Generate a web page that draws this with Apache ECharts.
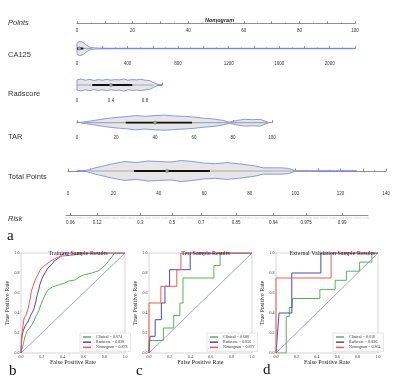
<!DOCTYPE html>
<html>
<head>
<meta charset="utf-8">
<script src="https://cdn.jsdelivr.net/npm/echarts@6/dist/echarts.min.js"></script>
<style>
  html, body { margin: 0; padding: 0; background: #fff; }
  #chart { width: 400px; height: 380px; }
</style>
</head>
<body>
<div id="chart"></div>
<script>
// nomogram violins: positions on each variable's scale and relative half widths
var ca125Pos = [0, 10, 30, 50, 70, 90, 110, 150, 250, 600, 2200];
var ca125Dens = [0.7, 0.95, 1.0, 0.85, 0.55, 0.3, 0.15, 0.07, 0.04, 0.03, 0.03];
var ca125Stats = [0, 0, 18, 50, 120]; // lo, q1, median, q3, hi

var radPos = [0, 0.05, 0.1, 0.15, 0.2, 0.25, 0.3, 0.35, 0.4, 0.45, 0.5, 0.55, 0.6, 0.65, 0.7, 0.75, 0.8, 0.85, 0.9, 0.95, 1.0];
var radDens = [0.85, 1.0, 0.8, 0.95, 0.75, 0.9, 0.8, 0.95, 0.8, 0.9, 0.85, 1.0, 0.8, 0.9, 0.85, 0.95, 0.8, 0.75, 0.4, 0.08, 0.06];
var radStats = [0, 0.18, 0.4, 0.65, 0.9];

var tarPos = [2, 5, 10, 15, 20, 25, 30, 35, 40, 45, 50, 55, 60, 65, 70, 75, 78, 82, 86, 90, 94, 98];
var tarDens = [0.05, 0.15, 0.35, 0.55, 0.7, 0.8, 0.95, 0.85, 0.95, 1.0, 0.9, 0.85, 0.75, 0.6, 0.5, 0.3, 0.08, 0.3, 0.45, 0.4, 0.45, 0.05];
var tarStats = [2, 25, 40, 59, 99];

var totalPos = [4, 8, 12, 16, 20, 25, 30, 35, 40, 45, 50, 55, 60, 65, 70, 75, 80, 82, 86, 90, 94, 97, 100, 110, 127];
var totalDens = [0.03, 0.05, 0.3, 0.5, 0.7, 0.9, 0.8, 0.95, 0.9, 0.85, 1.0, 0.9, 0.75, 0.7, 0.8, 0.7, 0.55, 0.5, 0.3, 0.3, 0.3, 0.25, 0.03, 0.03, 0.03];
var totalStats = [8, 29, 43.6, 62.5, 110];

// risk axis: tick positions (in total points) and labels
var riskPos = [0.9, 12.7, 31.7, 45.7, 58.6, 73.9, 90.3, 104.8, 120.6];
var riskLabels = ["0.06", "0.12", "0.3", "0.5", "0.7", "0.85", "0.94", "0.975", "0.99"];

// ROC curves [fpr, tpr]
var trainClin = [[0,0],[0.01,0.02],[0.02,0.08],[0.04,0.17],[0.06,0.22],[0.09,0.26],[0.12,0.31],[0.14,0.36],[0.17,0.42],[0.19,0.48],[0.21,0.53],[0.24,0.6],[0.26,0.63],[0.3,0.66],[0.36,0.68],[0.42,0.7],[0.46,0.72],[0.52,0.73],[0.56,0.76],[0.6,0.78],[0.68,0.8],[0.74,0.82],[0.78,0.85],[0.82,0.89],[0.85,0.93],[0.88,0.97],[0.9,1.0],[1,1]];
var trainRad = [[0,0],[0.005,0.1],[0.01,0.17],[0.02,0.22],[0.04,0.27],[0.07,0.32],[0.09,0.37],[0.12,0.43],[0.14,0.5],[0.15,0.56],[0.17,0.63],[0.18,0.68],[0.2,0.74],[0.23,0.8],[0.26,0.85],[0.29,0.88],[0.32,0.92],[0.36,0.95],[0.39,0.98],[0.42,1.0],[1,1]];
var trainNom = [[0,0],[0.005,0.15],[0.02,0.28],[0.03,0.35],[0.05,0.38],[0.07,0.45],[0.08,0.5],[0.09,0.55],[0.1,0.62],[0.12,0.68],[0.14,0.74],[0.16,0.78],[0.19,0.84],[0.22,0.87],[0.26,0.9],[0.3,0.93],[0.34,0.95],[0.4,0.97],[0.5,0.98],[0.62,1.0],[1,1]];

var testClin = [[0,0],[0,0.125],[0.14,0.125],[0.14,0.25],[0.24,0.25],[0.24,0.375],[0.3,0.375],[0.3,0.5],[0.33,0.5],[0.33,0.75],[0.63,0.75],[0.63,0.875],[0.69,0.875],[0.69,1],[1,1]];
var testRad = [[0,0],[0.01,0.167],[0.06,0.167],[0.06,0.333],[0.12,0.333],[0.12,0.5],[0.155,0.5],[0.155,0.667],[0.2,0.667],[0.2,0.833],[0.4,0.833],[0.4,1],[1,1]];
var testNom = [[0,0],[0,0.5],[0.115,0.5],[0.115,0.667],[0.27,0.667],[0.27,0.833],[0.31,0.833],[0.31,1],[1,1]];

var extClin = [[0,0],[0.1,0],[0.1,0.364],[0.13,0.364],[0.13,0.455],[0.16,0.455],[0.16,0.545],[0.43,0.545],[0.43,0.636],[0.58,0.636],[0.58,0.727],[0.69,0.727],[0.69,0.818],[0.82,0.818],[0.82,0.909],[0.94,0.909],[0.94,1],[1,1]];
var extRad = [[0,0],[0.015,0],[0.015,0.2],[0.03,0.2],[0.03,0.4],[0.155,0.4],[0.155,0.8],[0.44,0.8],[0.44,1],[1,1]];
var extNom = [[0,0],[0,0.75],[0.54,0.75],[0.54,1],[1,1]];

var rocTitles = ["Training Sample Results", "Test Sample Results", "External Validation Sample Results"];
var rocNames = [
  ["Clinical = 0.674", "Radscore = 0.838", "Nomogram = 0.878"],
  ["Clinical = 0.688", "Radscore = 0.856", "Nomogram = 0.877"],
  ["Clinical = 0.618", "Radscore = 0.836", "Nomogram = 0.864"]
];
var rocData = [
  [trainClin, trainRad, trainNom],
  [testClin, testRad, testNom],
  [extClin, extRad, extNom]
];

var SANS = "Liberation Sans";
var SERIF = "Liberation Serif";
var rocColors = ["#55b555", "#4848c8", "#ff5555"];
var outline = "#6f7fe6";

// nomogram rows: axis extent in px, violin centre / half height / axis line y
var rows = [
  { name: "Points", left: 77, right: 355, axisY: 26.7, min: 0, max: 100, interval: 10, every: 20 },
  { name: "CA125", left: 77, right: 355, axisY: 59.5, center: 48.5, half: 7, min: 0, max: 2200, interval: 200, every: 400, pos: ca125Pos, dens: ca125Dens, stats: ca125Stats },
  { name: "Radscore", left: 77, right: 162, axisY: 96.7, center: 85, half: 6, min: 0, max: 1, interval: 0.1, every: 0.4, pos: radPos, dens: radDens, stats: radStats },
  { name: "TAR", left: 77, right: 272, axisY: 133.3, center: 122.7, half: 7.5, min: 0, max: 100, interval: 10, every: 20, pos: tarPos, dens: tarDens, stats: tarStats },
  { name: "Total Points", left: 68, right: 386, axisY: 189.3, center: 171, half: 10.5, min: 0, max: 140, interval: 10, every: 20, pos: totalPos, dens: totalDens, stats: totalStats },
  { name: "Risk", left: 66, right: 368, axisY: 218.5, min: -1, max: 132 }
];
var rowLabelY = [23, 55, 94, 137, 176.5, 219];

var grids = [], xAxes = [], yAxes = [], series = [], graphics = [];

function violinRender(pos, dens) {
  return function (params, api) {
    var pts = [];
    for (var i = 0; i < pos.length; i++) pts.push(api.coord([pos[i], dens[i]]));
    for (var j = pos.length - 1; j >= 0; j--) pts.push(api.coord([pos[j], -dens[j]]));
    return {
      type: "polygon",
      shape: { points: pts },
      style: { fill: "#e6e6e6", stroke: outline, lineWidth: 0.8 }
    };
  };
}

rows.forEach(function (r, i) {
  var top, height, ymin;
  if (r.center) {
    top = r.center - r.half;
    height = r.axisY - top;
    ymin = -(r.axisY - r.center) / r.half;
  } else {
    top = r.axisY - 6;
    height = 6;
    ymin = -1;
  }
  grids.push({ left: r.left, top: top, width: r.right - r.left, height: height, show: false });
  yAxes.push({ gridIndex: i, type: "value", show: false, min: ymin, max: 1 });

  if (r.name === "Risk") {
    xAxes.push({
      gridIndex: i, type: "value", position: "bottom", min: r.min, max: r.max,
      axisLine: { lineStyle: { color: "#444", width: 0.6 } },
      axisTick: { customValues: riskPos, inside: true, length: 2.5, lineStyle: { color: "#444", width: 0.6 } },
      axisLabel: {
        customValues: riskPos, margin: 2, fontSize: 4.5, color: "#333", fontFamily: SANS,
        formatter: function (v) {
          var k = riskPos.indexOf(v);
          return k >= 0 ? riskLabels[k] : "";
        }
      },
      splitLine: { show: false }
    });
  } else {
    var every = r.every;
    xAxes.push({
      gridIndex: i, type: "value", position: "bottom", min: r.min, max: r.max, interval: r.interval,
      axisLine: { lineStyle: { color: "#444", width: 0.6 } },
      axisTick: { inside: true, length: 2.5, lineStyle: { color: "#444", width: 0.6 } },
      minorTick: { show: true, splitNumber: 2, length: 1.2, lineStyle: { color: "#666", width: 0.5 } },
      axisLabel: {
        margin: 1.5, fontSize: 4.5, color: "#333", fontFamily: SANS, showMaxLabel: true,
        formatter: function (v) {
          var q = v / every;
          return Math.abs(q - Math.round(q)) < 1e-6 ? String(+v.toFixed(2)) : "";
        }
      },
      splitLine: { show: false }
    });
  }

  if (r.pos) {
    series.push({
      type: "custom", xAxisIndex: i, yAxisIndex: i, silent: true, clip: false,
      renderItem: violinRender(r.pos, r.dens), data: [[r.min, 0]]
    });
    series.push({
      type: "line", xAxisIndex: i, yAxisIndex: i, symbol: "none", silent: true,
      lineStyle: { color: "#a8a8a8", width: 1.2 },
      data: [[r.stats[0], 0], [r.stats[4], 0]]
    });
    series.push({
      type: "line", xAxisIndex: i, yAxisIndex: i, symbol: "none", silent: true,
      lineStyle: { color: "#111", width: 1.8 },
      data: [[r.stats[1], 0], [r.stats[3], 0]]
    });
    series.push({
      type: "scatter", xAxisIndex: i, yAxisIndex: i, silent: true, symbolSize: 3.2,
      itemStyle: { color: "#c8c8c8", borderColor: "#555", borderWidth: 0.6 },
      data: [[r.stats[2], 0]], z: 5
    });
  }

  graphics.push({
    type: "text", left: 8, top: rowLabelY[i] - 4,
    style: {
      text: r.name, fontSize: 7.5, fill: "#333", fontFamily: SANS,
      fontStyle: (r.name === "Points" || r.name === "Risk") ? "italic" : "normal"
    }
  });
});

// ROC panels
var rocBoxes = [
  { left: 21, right: 125, legendLeft: 80 },
  { left: 149, right: 252, legendLeft: 207 },
  { left: 276, right: 378, legendLeft: 333 }
];
var titles = [{
  text: "Nomogram", left: 200, top: 12,
  textStyle: { fontSize: 5.5, fontWeight: "bold", fontStyle: "italic", color: "#222", fontFamily: SANS }
}];
var legends = [];

rocBoxes.forEach(function (b, k) {
  var gi = 6 + k;
  grids.push({ left: b.left, top: 253, width: b.right - b.left, height: 100, show: true, borderColor: "#bbb", borderWidth: 0.6, backgroundColor: "#fff" });
  var axisCommon = {
    gridIndex: gi, type: "value", min: 0, max: 1, interval: 0.2,
    axisLine: { show: false }, axisTick: { show: false }, splitLine: { show: false },
    axisLabel: { fontSize: 4, color: "#333", fontFamily: SERIF, margin: 1.5, formatter: function (v) { return v.toFixed(1); } },
    nameLocation: "middle",
    nameTextStyle: { fontSize: 6, color: "#222", fontFamily: SERIF }
  };
  xAxes.push(Object.assign({}, axisCommon, { name: "False Positive Rate", nameGap: 4 }));
  yAxes.push(Object.assign({}, axisCommon, { name: "True Positive Rate", nameGap: 5 }));

  titles.push({
    text: rocTitles[k], left: (b.left + b.right) / 2, top: 245.5, textAlign: "center",
    textStyle: { fontSize: 6, fontWeight: "normal", color: "#222", fontFamily: SERIF }
  });

  series.push({
    type: "line", name: "diag" + k, xAxisIndex: gi, yAxisIndex: gi, symbol: "none", silent: true,
    lineStyle: { color: "#5a5ad8", width: 0.6 }, data: [[0, 0], [1, 1]]
  });
  rocData[k].forEach(function (d, s) {
    series.push({
      type: "line", name: rocNames[k][s], xAxisIndex: gi, yAxisIndex: gi, symbol: "none",
      color: rocColors[s], lineStyle: { color: rocColors[s], width: 1 }, data: d
    });
  });

  legends.push({
    data: rocNames[k], left: b.legendLeft, top: 333, orient: "vertical",
    itemWidth: 8, itemHeight: 1.5, itemGap: 1.2, icon: "rect", padding: [2, 3],
    borderColor: "#ccc", borderWidth: 0.5, backgroundColor: "#fff",
    textStyle: { fontSize: 4, color: "#333", fontFamily: SERIF }
  });
});

// dense minor ticks on the risk axis (extra axis in the risk grid, pushed last)
xAxes.push({
  gridIndex: 5, type: "value", position: "bottom", min: -1, max: 132, interval: 1,
  axisLine: { show: false }, axisLabel: { show: false }, splitLine: { show: false },
  axisTick: { inside: true, length: 1.2, lineStyle: { color: "#666", width: 0.4 } }
});

var letters = [["a", 7, 229], ["b", 9, 364], ["c", 136, 364], ["d", 263, 363]];
letters.forEach(function (l) {
  graphics.push({ type: "text", left: l[1], top: l[2], style: { text: l[0], fontSize: 15, fill: "#111", fontFamily: SERIF } });
});

var myChart = echarts.init(document.getElementById("chart"), null, { renderer: "canvas" });
myChart.setOption({
  animation: false,
  backgroundColor: "#fff",
  title: titles,
  legend: legends,
  grid: grids,
  xAxis: xAxes,
  yAxis: yAxes,
  series: series,
  graphic: graphics
});
</script>
</body>
</html>
